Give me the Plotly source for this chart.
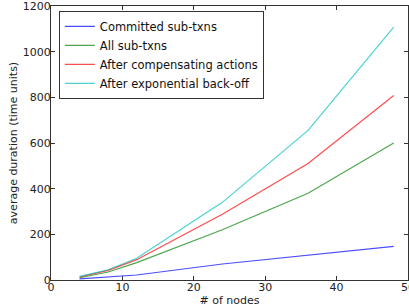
import plotly.graph_objects as go

nodes = [4, 8, 12, 24, 36, 48]
committed = [5, 15, 22, 70, 107, 147]
all_subtxns = [10, 35, 76, 220, 380, 600]
after_comp = [13, 42, 89, 288, 510, 808]
after_backoff = [16, 45, 95, 340, 655, 1108]

names = ["Committed sub-txns", "All sub-txns", "After compensating actions", "After exponential back-off"]
series = [committed, all_subtxns, after_comp, after_backoff]
colors = ["rgba(0,0,255,0.7)", "rgba(0,128,0,0.7)", "rgba(255,0,0,0.7)", "rgba(0,191,191,0.7)"]

fig = go.Figure()
for n, s, c in zip(names, series, colors):
    fig.add_trace(go.Scatter(x=nodes, y=s, mode="lines", name=n, line=dict(color=c, width=1.2)))

axis_common = dict(showgrid=False, zeroline=False, showline=True, linecolor="#333", linewidth=1,
                   mirror="ticks", ticks="inside", ticklen=4, tickcolor="#333",
                   tickfont=dict(size=11, color="#222"), automargin=False,
                   ticklabeloverflow="allow", ticklabelstandoff=-3)
fig.update_layout(
    width=409, height=307,
    margin=dict(l=51, r=1, t=6, b=27),
    paper_bgcolor="white", plot_bgcolor="white",
    font=dict(family="DejaVu Sans", color="#222"),
    xaxis=dict(range=[0, 50], tickvals=[0, 10, 20, 30, 40, 50],
               title=dict(text="# of nodes", font=dict(size=11), standoff=2), **axis_common),
    yaxis=dict(range=[0, 1200], tickvals=[0, 200, 400, 600, 800, 1000, 1200],
               title=dict(text="average duration (time units)", font=dict(size=11), standoff=2), **axis_common),
    legend=dict(x=0.022, y=0.982, xanchor="left", yanchor="top", bordercolor="#333", borderwidth=1,
                bgcolor="white", font=dict(size=11.5, color="#111"), tracegroupgap=0),
    showlegend=True,
)
fig.write_html("out.html", config={"displayModeBar": False},
               post_script="document.body.style.margin='0';document.body.style.overflow='hidden';")
